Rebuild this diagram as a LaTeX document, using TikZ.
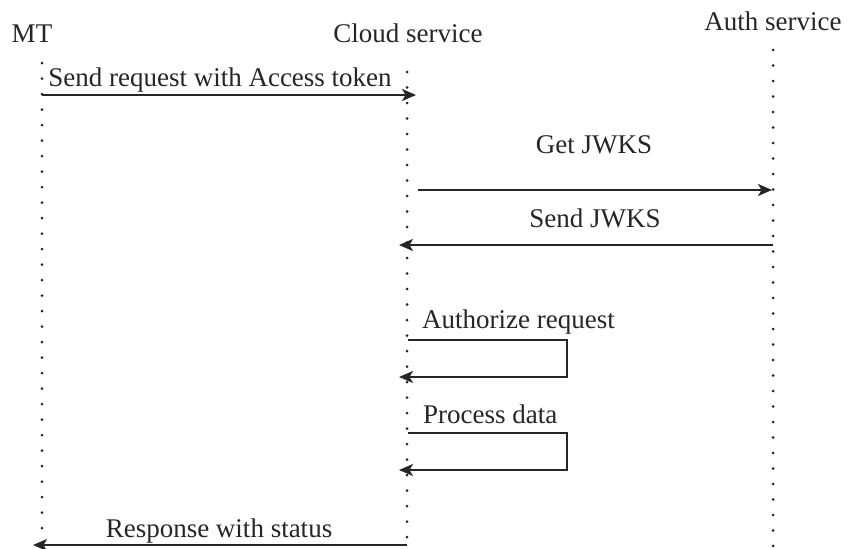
\documentclass[tikz,border=0pt]{standalone}
\usepackage{fontspec}
\setmainfont{Liberation Serif}
\usetikzlibrary{arrows.meta}
\begin{document}
\begin{tikzpicture}[x=1pt,y=-1pt,
  lbl/.style={font=\fontsize{27}{32}\selectfont, inner sep=0pt, anchor=base, text=black!85},
  life/.style={line width=3pt, line cap=round, dash pattern=on 0pt off 15.5pt, black!85},
  msg/.style={line width=1.8pt, black!85, -{Stealth[length=14pt,width=12pt,inset=3.5pt]}},
  loopmsg/.style={line width=1.6pt, black!85, -{Stealth[length=14pt,width=12pt,inset=3.5pt]}},
]
\useasboundingbox (0,0) rectangle (849,549);

% headers
\node[lbl] (mt) at (32,42) {MT};
\node[lbl] (cloud) at (408,42) {Cloud service};
\node[lbl] (auth) at (773,30) {Auth service};

% lifelines
\coordinate (mtTop) at (42,63);
\coordinate (mtBot) at (42,549);
\coordinate (clTop) at (407,72);
\coordinate (clBot) at (407,545);
\coordinate (auTop) at (773,50);
\coordinate (auBot) at (773,549);
\draw[life] (mtTop) -- (mtBot);
\draw[life] (clTop) -- (clBot);
\draw[life] (auTop) -- (auBot);

% message 1
\coordinate (m1s) at (42,95);
\coordinate (m1e) at (416,95);
\draw[msg] (m1s) -- (m1e);
\node[lbl] (m1l) at (220,86) {Send request with Access token};

% message 2
\coordinate (m2s) at (418,190);
\coordinate (m2e) at (772,190);
\draw[msg] (m2s) -- (m2e);
\node[lbl] (m2l) at (594,153) {Get JWKS};

% message 3
\coordinate (m3s) at (773,245);
\coordinate (m3e) at (399,245);
\draw[msg] (m3s) -- (m3e);
\node[lbl] (m3l) at (595,227) {Send JWKS};

% self loop 1
\coordinate (l1s) at (408,340);
\coordinate (l1a) at (567,340);
\coordinate (l1b) at (567,377);
\coordinate (l1e) at (399,377);
\draw[loopmsg] (l1s) -- (l1a) -- (l1b) -- (l1e);
\node[lbl, anchor=base west] (l1l) at (422,328) {Authorize request};

% self loop 2
\coordinate (l2s) at (408,433);
\coordinate (l2a) at (567,433);
\coordinate (l2b) at (567,470);
\coordinate (l2e) at (399,470);
\draw[loopmsg] (l2s) -- (l2a) -- (l2b) -- (l2e);
\node[lbl, anchor=base west] (l2l) at (423,423) {Process data};

% response
\coordinate (m4s) at (407,545);
\coordinate (m4e) at (33,545);
\draw[msg] (m4s) -- (m4e);
\node[lbl] (m4l) at (219,537) {Response with status};
\end{tikzpicture}
\end{document}
